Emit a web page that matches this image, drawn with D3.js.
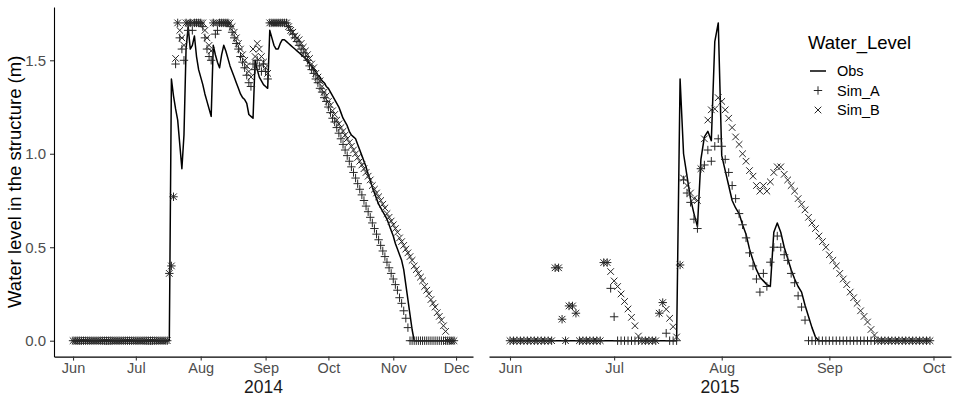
<!DOCTYPE html>
<html>
<head>
<meta charset="utf-8">
<script src="https://cdn.jsdelivr.net/npm/d3@7"></script>
<style>
  body { margin: 0; background: #fff; }
  svg text { font-family: "Liberation Sans", Arial, Helvetica, sans-serif; }
</style>
</head>
<body>
<svg id="chart" width="957" height="397"></svg>
<script>
// daily values, one entry per day from the start date of each year
const years = ["2014", "2015"];
const startDates = ["2014-06-01", "2015-06-01"];
const seriesNames = ["Obs", "Sim_A", "Sim_B"];
const yTicks = [0, 0.5, 1.0, 1.5];
const monthTicks2014 = ["2014-06-01", "2014-07-01", "2014-08-01", "2014-09-01", "2014-10-01", "2014-11-01", "2014-12-01"];
const monthTicks2015 = ["2015-06-01", "2015-07-01", "2015-08-01", "2015-09-01", "2015-10-01"];

const obs2014 = [
  0,0,0,0,0,0,0,0,0,0,
  0,0,0,0,0,0,0,0,0,0,
  0,0,0,0,0,0,0,0,0,0,
  0,0,0,0,0,0,0,0,0,0,
  0,0,0,0,0,0,0,
  1.40,1.31,1.24,1.18,1.05,0.92,1.10,1.56,1.68,1.56,
  1.58,1.63,1.52,1.45,1.41,1.37,1.32,1.28,1.24,1.20,
  1.58,1.53,1.49,1.46,1.53,1.58,1.55,1.51,1.47,1.44,
  1.41,1.38,1.35,1.32,1.30,1.29,1.27,1.21,1.20,1.19,
  1.50,1.45,1.41,1.39,1.37,1.36,1.35,1.66,1.62,1.58,
  1.56,1.56,1.59,1.61,1.61,1.60,1.59,1.58,1.57,1.56,
  1.55,1.54,1.53,1.52,1.51,1.50,1.48,1.47,1.45,1.44,
  1.42,1.41,1.39,1.38,1.36,1.35,1.33,1.31,1.29,1.27,
  1.25,1.22,1.19,1.17,1.15,1.12,1.10,1.09,1.08,1.05,
  1.02,0.99,0.96,0.93,0.89,0.86,0.82,0.79,0.76,0.73,
  0.71,0.69,0.67,0.65,0.62,0.59,0.56,0.52,0.49,0.46,
  0.43,0.38,0.30,0.22,0.14,0.06,0,0,0,0,
  0,0,0,0,0,0,0,0,0,0,
  0,0,0,0,0,0
];

const simA2014 = [
  0,0,0,0,0,0,0,0,0,0,
  0,0,0,0,0,0,0,0,0,0,
  0,0,0,0,0,0,0,0,0,0,
  0,0,0,0,0,0,0,0,0,0,
  0,0,0,0,0,0,
  0.36,0.40,0.77,1.48,1.70,1.62,1.56,1.50,1.70,1.66,
  1.70,1.66,1.70,1.70,1.70,1.70,1.68,1.62,1.56,1.52,
  1.50,1.70,1.64,1.66,1.70,1.70,1.70,1.70,1.70,1.68,
  1.65,1.62,1.59,1.56,1.52,1.49,1.46,1.42,1.38,1.36,
  1.48,1.45,1.50,1.47,1.44,1.48,1.44,1.40,1.70,1.70,
  1.70,1.70,1.70,1.70,1.70,1.70,1.70,1.68,1.66,1.64,
  1.62,1.60,1.58,1.56,1.54,1.52,1.50,1.47,1.45,1.43,
  1.40,1.38,1.35,1.33,1.30,1.28,1.25,1.22,1.19,1.17,
  1.14,1.11,1.08,1.05,1.02,0.99,0.96,0.93,0.90,0.87,
  0.84,0.81,0.78,0.75,0.72,0.69,0.66,0.63,0.60,0.57,
  0.54,0.51,0.48,0.45,0.42,0.39,0.36,0.33,0.30,0.27,
  0.23,0.20,0.16,0.12,0.07,0,0,0,0,0,
  0,0,0,0,0,0,0,0,0,0,
  0,0,0,0,0,0,0
];

const simB2014 = [
  0,0,0,0,0,0,0,0,0,0,
  0,0,0,0,0,0,0,0,0,0,
  0,0,0,0,0,0,0,0,0,0,
  0,0,0,0,0,0,0,0,0,0,
  0,0,0,0,0,0,
  0.36,0.40,0.77,1.51,1.70,1.66,1.62,1.58,1.70,1.70,
  1.70,1.70,1.70,1.70,1.70,1.70,1.70,1.66,1.62,1.58,
  1.55,1.70,1.70,1.70,1.70,1.70,1.70,1.70,1.70,1.70,
  1.68,1.65,1.62,1.59,1.56,1.53,1.50,1.47,1.44,1.41,
  1.56,1.52,1.59,1.56,1.52,1.49,1.46,1.43,1.70,1.70,
  1.70,1.70,1.70,1.70,1.70,1.70,1.70,1.68,1.66,1.65,
  1.63,1.62,1.61,1.59,1.57,1.55,1.53,1.51,1.48,1.46,
  1.43,1.41,1.39,1.36,1.33,1.31,1.28,1.26,1.23,1.21,
  1.18,1.16,1.14,1.12,1.10,1.08,1.06,1.04,1.02,1.00,
  0.98,0.96,0.94,0.92,0.90,0.88,0.86,0.83,0.81,0.79,
  0.77,0.75,0.73,0.71,0.68,0.66,0.64,0.62,0.60,0.58,
  0.55,0.53,0.51,0.49,0.47,0.45,0.43,0.40,0.38,0.36,
  0.34,0.32,0.29,0.27,0.25,0.22,0.20,0.18,0.15,0.13,
  0.11,0.08,0.05,0,0,0,0
];

const obs2015 = [
  0,0,0,0,0,0,0,0,0,0,
  0,0,0,0,0,0,0,0,0,0,
  0,0,0,0,0,0,0,0,0,0,
  0,0,0,0,0,0,0,0,0,0,
  0,0,0,0,0,0,0,0,0,
  1.40,1.00,0.88,0.76,0.68,0.61,0.97,1.09,1.12,1.07,
  1.60,1.70,0.99,0.91,0.83,0.75,0.71,0.68,0.62,0.57,
  0.49,0.43,0.38,0.34,0.32,0.30,0.29,0.58,0.63,0.58,
  0.50,0.44,0.38,0.33,0.29,0.26,0.19,0.13,0.07,0.02,
  0,0,0,0,0,0,0,0,0,0,
  0,0,0,0,0,0,0,0,0,0,
  0,0,0,0,0,0,0,0,0,0,
  0,0,0
];

const simA2015 = [
  0,0,0,0,0,0,0,0,0,0,
  0,0,0,0.39,0.39,0.115,0,0.186,0.186,0.147,
  0,0,0,0,0,0,0,0.418,0.418,0.28,
  0.128,0,0,0,0,0,0,0,0,0,
  0,0,0,0.147,0.204,0.04,0,0,0,0.405,
  0.86,0.79,0.74,0.65,0.60,0.92,0.94,1.02,0.96,1.04,
  1.08,1.04,0.97,0.90,0.83,0.76,0.68,0.62,0.55,0.47,
  0.40,0.33,0.26,0.36,0.29,0.42,0.50,0.56,0.50,0.46,
  0.43,0.36,0.31,0.24,0.18,0.11,0,0,0,0,
  0,0,0,0,0,0,0,0,0,0,
  0,0,0,0,0,0,0,0,0,0,
  0,0,0,0,0,0,0,0,0,0,
  0,0
];

const simB2015 = [
  0,0,0,0,0,0,0,0,0,0,
  0,0,0,0.39,0.39,0.115,0,0.186,0.186,0.147,
  0,0,0,0,0,0,0,0.418,0.418,0.37,
  0.32,0.29,0.25,0.21,0.17,0.125,0.08,0.025,0,0,
  0,0,0,0.147,0.204,0.168,0.12,0.075,0.02,0.405,
  0.87,0.83,0.79,0.76,0.75,0.92,1.08,1.18,1.235,1.24,
  1.30,1.28,1.235,1.19,1.14,1.09,1.05,1.00,0.96,0.91,
  0.88,0.83,0.80,0.83,0.80,0.85,0.90,0.93,0.93,0.89,
  0.86,0.83,0.80,0.76,0.73,0.70,0.66,0.63,0.60,0.56,
  0.53,0.50,0.46,0.43,0.40,0.36,0.33,0.30,0.26,0.23,
  0.20,0.16,0.13,0.10,0.06,0.03,0,0,0,0,
  0,0,0,0,0,0,0,0,0,0,
  0,0
];

const parseDate = d3.timeParse("%Y-%m-%d");
const svg = d3.select("#chart");

const plotTop = 7, plotBottom = 356.6;
const yMax = 1.7;
const y = d3.scaleLinear()
  .domain([-yMax * 0.05, yMax * 1.05])
  .range([plotBottom, plotTop]);

const panels = [
  { year: years[0], start: startDates[0], obs: obs2014, simA: simA2014, simB: simB2014, ticks: monthTicks2014, left: 54, right: 473, yAxis: true },
  { year: years[1], start: startDates[1], obs: obs2015, simA: simA2015, simB: simB2015, ticks: monthTicks2015, left: 489, right: 951, yAxis: false }
];

const plusPath = r => `M${-r},0H${r}M0,${-r}V${r}`;
const crossPath = r => `M${-r},${-r}L${r},${r}M${-r},${r}L${r},${-r}`;
const pointColor = "#262626";
const plusR = 4.2, crossR = 3.3;

panels.forEach(p => {
  const start = parseDate(p.start);
  const dayOf = i => d3.timeDay.offset(start, i);
  const end = dayOf(p.obs.length - 1);
  const pad = (end - start) * 0.05;
  const x = d3.scaleTime()
    .domain([new Date(+start - pad), new Date(+end + pad)])
    .range([p.left, p.right]);

  const g = svg.append("g");

  // observed line
  const line = d3.line()
    .x((d, i) => x(dayOf(i)))
    .y(d => y(d));
  g.append("path")
    .datum(p.obs)
    .attr("d", line)
    .attr("fill", "none")
    .attr("stroke", "#000")
    .attr("stroke-width", 1.5)
    .attr("stroke-linejoin", "round");

  // simulated points
  g.append("g").selectAll("path")
    .data(p.simA)
    .join("path")
    .attr("transform", (d, i) => `translate(${x(dayOf(i))},${y(d)})`)
    .attr("d", plusPath(plusR))
    .attr("fill", "none")
    .attr("stroke", pointColor)
    .attr("stroke-width", 1);

  g.append("g").selectAll("path")
    .data(p.simB)
    .join("path")
    .attr("transform", (d, i) => `translate(${x(dayOf(i))},${y(d)})`)
    .attr("d", crossPath(crossR))
    .attr("fill", "none")
    .attr("stroke", pointColor)
    .attr("stroke-width", 1);

  // x axis
  const xAxis = svg.append("g")
    .attr("transform", `translate(0,${plotBottom})`)
    .call(d3.axisBottom(x)
      .tickValues(p.ticks.map(parseDate))
      .tickFormat(d3.timeFormat("%b"))
      .tickSize(4)
      .tickSizeOuter(0)
      .tickPadding(2.5));
  xAxis.select(".domain").attr("stroke", "#000").attr("stroke-width", 1.1);
  xAxis.selectAll(".tick line").attr("stroke", "#333").attr("stroke-width", 1.1);
  xAxis.selectAll(".tick text")
    .attr("fill", "#4d4d4d")
    .style("font-size", "14.5px");

  // facet label under the axis
  svg.append("text")
    .attr("x", (p.left + p.right) / 2)
    .attr("y", 392.5)
    .attr("text-anchor", "middle")
    .style("font-size", "17.5px")
    .attr("fill", "#1a1a1a")
    .text(p.year);

  if (p.yAxis) {
    const yAxis = svg.append("g")
      .attr("transform", `translate(${p.left},0)`)
      .call(d3.axisLeft(y)
        .tickValues(yTicks)
        .tickFormat(d3.format(".1f"))
        .tickSize(4)
        .tickSizeOuter(0)
        .tickPadding(4));
    yAxis.select(".domain").attr("stroke", "#000").attr("stroke-width", 1.1);
    yAxis.selectAll(".tick line").attr("stroke", "#333").attr("stroke-width", 1.1);
    yAxis.selectAll(".tick text")
      .attr("fill", "#4d4d4d")
      .style("font-size", "15px");
  }
});

// y axis title
svg.append("text")
  .attr("transform", `translate(21,${(plotTop + plotBottom) / 2}) rotate(-90)`)
  .attr("text-anchor", "middle")
  .style("font-size", "18.5px")
  .attr("fill", "#000")
  .text("Water level in the structure (m)");

// legend
const legend = svg.append("g").attr("transform", "translate(808,0)");
legend.append("text")
  .attr("x", 0)
  .attr("y", 49)
  .style("font-size", "18.5px")
  .attr("fill", "#000")
  .text("Water_Level");

seriesNames.forEach((name, i) => {
  const cy = 71 + i * 19.5;
  const key = legend.append("g").attr("transform", `translate(10,${cy})`);
  if (name === "Obs") {
    key.append("line")
      .attr("x1", -8).attr("x2", 8)
      .attr("stroke", "#000").attr("stroke-width", 1.5);
  } else {
    key.append("path")
      .attr("d", name === "Sim_A" ? plusPath(plusR) : crossPath(crossR))
      .attr("fill", "none")
      .attr("stroke", pointColor)
      .attr("stroke-width", 1);
  }
  legend.append("text")
    .attr("x", 29)
    .attr("y", cy)
    .attr("dy", "0.36em")
    .style("font-size", "14.5px")
    .attr("fill", "#000")
    .text(name);
});
</script>
</body>
</html>
